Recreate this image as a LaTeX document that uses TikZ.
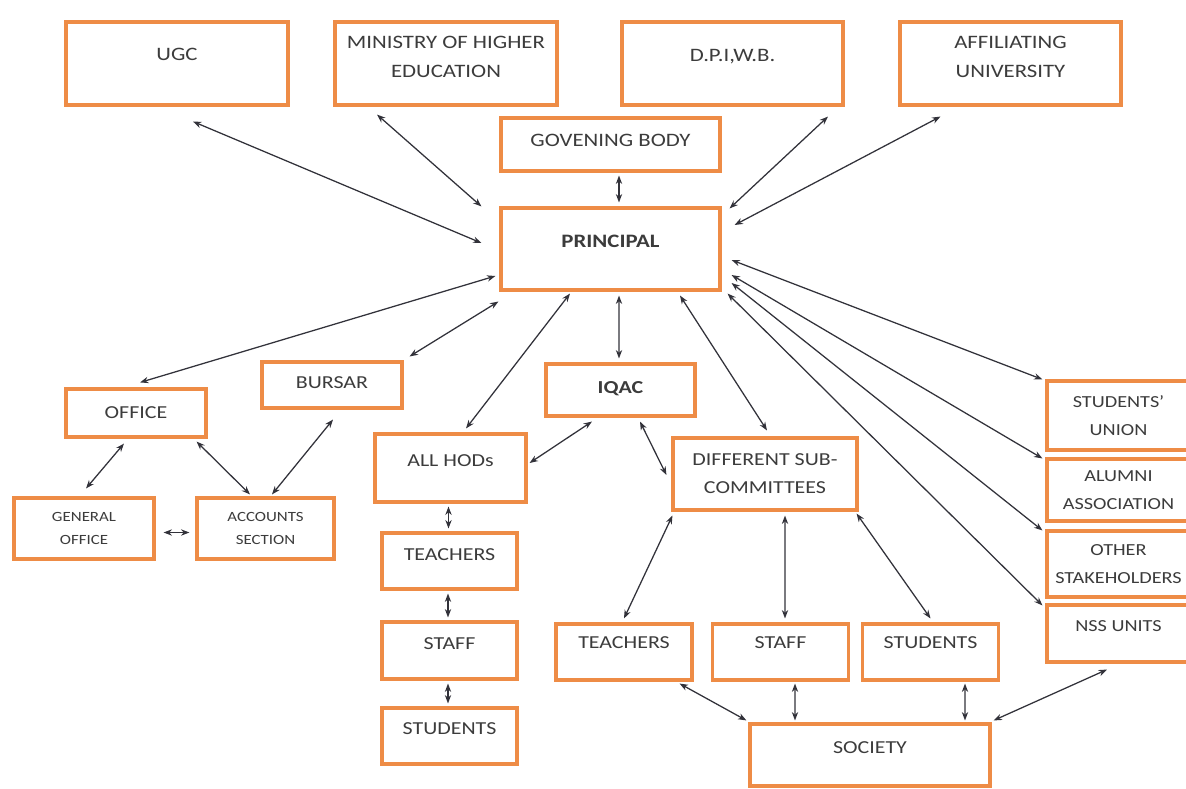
\documentclass[tikz,border=0pt]{standalone}
\usepackage{fontspec}
\setmainfont{Carlito}[FakeStretch=1.2]
\usetikzlibrary{arrows.meta}
\definecolor{boxorange}{RGB}{238,140,70}
\definecolor{linegray}{RGB}{50,50,58}
\definecolor{textgray}{RGB}{60,60,60}
\tikzstyle{unit} = [rectangle, draw=boxorange, line width=2.2pt, fill=white, text=textgray, align=center, inner sep=2pt, font=\fontsize{13}{20}\selectfont]
\tikzstyle{big} = [font=\fontsize{13.5}{20.5}\selectfont]
\tikzstyle{side} = [font=\fontsize{12}{20}\selectfont]
\tikzstyle{small} = [font=\fontsize{10}{17}\selectfont]
\tikzstyle{arrow} = [linegray, line width=0.9pt, {Stealth[length=6pt,width=4.5pt]}-{Stealth[length=6pt,width=4.5pt]}]

\begin{document}
\begin{tikzpicture}[x=0.025cm, y=-0.025cm]
\useasboundingbox (0,0) rectangle (1186,789);

% top row
\node (ugc)[unit, big, minimum width=5.55cm, minimum height=2.075cm, text depth=13.5pt] at (177,63.5) {UGC};
\node (ministry)[unit, big, minimum width=5.55cm, minimum height=2.075cm, text depth=10pt] at (446,63.5) {MINISTRY OF HIGHER\\EDUCATION};
\node (dpi)[unit, big, minimum width=5.525cm, minimum height=2.075cm, text depth=12pt] at (732.5,63.5) {D.P.I,W.B.};
\node (affil)[unit, big, minimum width=5.525cm, minimum height=2.075cm, text depth=10pt] at (1010.5,63.5) {AFFILIATING\\UNIVERSITY};
\node (gov)[unit, big, minimum width=5.475cm, minimum height=1.325cm, text depth=6.4pt] at (610.5,144.5) {GOVENING BODY};
\node (principal)[unit, big, minimum width=5.475cm, minimum height=2.05cm, text depth=11.4pt] at (610.5,249) {\textbf{PRINCIPAL}};

\draw [arrow]([shift={(16,15)}]ugc.south) -- ([shift={(-18,-6)}]principal.west);
\draw [arrow]([shift={(-69,8)}]ministry.south) -- ([shift={(-18,0)}]principal.north west);
\draw [arrow]([shift={(95.5,10)}]dpi.south) -- ([shift={(8,2)}]principal.north east);
\draw [arrow]([shift={(-70,10)}]affil.south) -- ([shift={(13,-24)}]principal.east);
\draw [arrow]([shift={(8.5,3)}]gov.south) -- ([shift={(8.5,-4)}]principal.north);

% office side
\node (office)[unit, minimum width=3.5cm, minimum height=1.2cm] at (136,413) {OFFICE};
\node (bursar)[unit, minimum width=3.5cm, minimum height=1.15cm, text depth=4pt] at (332,385) {BURSAR};
\node (genoffice)[unit, small, minimum width=3.5cm, minimum height=1.525cm] at (84,528.5) {GENERAL\\OFFICE};
\node (accounts)[unit, small, minimum width=3.425cm, minimum height=1.525cm] at (265.5,528.5) {ACCOUNTS\\SECTION};
\draw [arrow]([shift={(-4,27)}]principal.west) -- ([shift={(4,-5)}]office.north);
\draw [arrow]([shift={(-1,10)}]principal.south west) -- ([shift={(6,-4)}]bursar.north east);
\draw [arrow]([shift={(-12,5)}]office.south) -- ([shift={(2,-8)}]genoffice.north);
\draw [arrow]([shift={(-11,3)}]office.south east) -- ([shift={(-15.5,-2)}]accounts.north);
\draw [arrow]([shift={(1,10)}]bursar.south) -- ([shift={(6.5,-2)}]accounts.north);
\draw [arrow]([shift={(8,4)}]genoffice.east) -- ([shift={(-6,4)}]accounts.west);

% iqac, hods, committees
\node (iqac)[unit, minimum width=3.725cm, minimum height=1.3cm, text depth=4pt] at (620.5,390) {\textbf{IQAC}};
\node (hods)[unit, minimum width=3.775cm, minimum height=1.7cm, text depth=11pt] at (450.5,468) {ALL HODs};
\node (subcomm)[unit, minimum width=4.6cm, minimum height=1.8cm] at (765,474) {DIFFERENT SUB-\\COMMITTEES};
\draw [arrow]([shift={(-40.5,2)}]principal.south) -- ([shift={(15.5,-4)}]hods.north);
\draw [arrow]([shift={(8.5,4)}]principal.south) -- ([shift={(-1.5,-4)}]iqac.north);
\draw [arrow]([shift={(69.5,4)}]principal.south) -- ([shift={(2,-6)}]subcomm.north);
\draw [arrow]([shift={(2,-5)}]hods.east) -- ([shift={(-28.5,4)}]iqac.south);
\draw [arrow]([shift={(19.5,4)}]iqac.south) -- ([shift={(-5,1)}]subcomm.west);

% left column
\node (teachersA)[unit, minimum width=3.375cm, minimum height=1.4cm, text depth=8.5pt] at (449.5,561) {TEACHERS};
\node (staffA)[unit, minimum width=3.375cm, minimum height=1.425cm, text depth=10.5pt] at (449.5,650.5) {STAFF};
\node (studentsA)[unit, minimum width=3.375cm, minimum height=1.4cm, text depth=11pt] at (449.5,736) {STUDENTS};
\draw [arrow]([shift={(-2,3)}]hods.south) -- ([shift={(-1,-3)}]teachersA.north);
\draw [arrow]([shift={(-1.5,3)}]teachersA.south) -- ([shift={(-1.5,-3)}]staffA.north);
\draw [arrow]([shift={(-1.5,3)}]staffA.south) -- ([shift={(-1.5,-3)}]studentsA.north);

% committee members and society
\node (teachersB)[unit, minimum width=3.4cm, minimum height=1.4cm, text depth=12.8pt] at (624,652) {TEACHERS};
\node (staffB)[unit, minimum width=3.4cm, minimum height=1.4cm, text depth=12.8pt] at (780.5,652) {STAFF};
\node (studentsB)[unit, minimum width=3.4cm, minimum height=1.4cm, text depth=12.8pt] at (930.5,652) {STUDENTS};
\node (society)[unit, minimum width=6cm, minimum height=1.55cm, text depth=10pt] at (870,755) {SOCIETY};
\draw [arrow]([shift={(1,4)}]subcomm.south west) -- ([shift={(0,-4)}]teachersB.north);
\draw [arrow]([shift={(20,4)}]subcomm.south) -- ([shift={(4.5,-4)}]staffB.north);
\draw [arrow]([shift={(-2,2)}]subcomm.south east) -- ([shift={(0,-4)}]studentsB.north);
\draw [arrow]([shift={(-14,2)}]teachersB.south east) -- ([shift={(-2,-2)}]society.north west);
\draw [arrow]([shift={(14.5,2)}]staffB.south) -- ([shift={(-75,-2)}]society.north);
\draw [arrow]([shift={(34.5,2)}]studentsB.south) -- ([shift={(95,-2)}]society.north);

% stakeholders on the right
\node (union)[unit, side, minimum width=3.575cm, minimum height=1.725cm] at (1118.5,415.5) {STUDENTS'\\UNION};
\node (alumni)[unit, side, minimum width=3.575cm, minimum height=1.55cm] at (1118.5,490) {ALUMNI\\ASSOCIATION};
\node (others)[unit, side, minimum width=3.575cm, minimum height=1.65cm] at (1118.5,564) {OTHER\\STAKEHOLDERS};
\node (nss)[unit, side, minimum width=3.575cm, minimum height=1.425cm, text depth=10.5pt] at (1118.5,633.5) {NSS UNITS};
\draw [arrow]([shift={(10,11)}]principal.east) -- ([shift={(-3,0)}]union.north west);
\draw [arrow]([shift={(10,26)}]principal.east) -- ([shift={(-3,1)}]alumni.north west);
\draw [arrow]([shift={(10,34)}]principal.east) -- ([shift={(-3,1)}]others.north west);
\draw [arrow]([shift={(6,2)}]principal.south east) -- ([shift={(-3,2)}]nss.north west);
\draw [arrow]([shift={(-11.5,6)}]nss.south) -- ([shift={(2,-2)}]society.north east);
\end{tikzpicture}
\end{document}
